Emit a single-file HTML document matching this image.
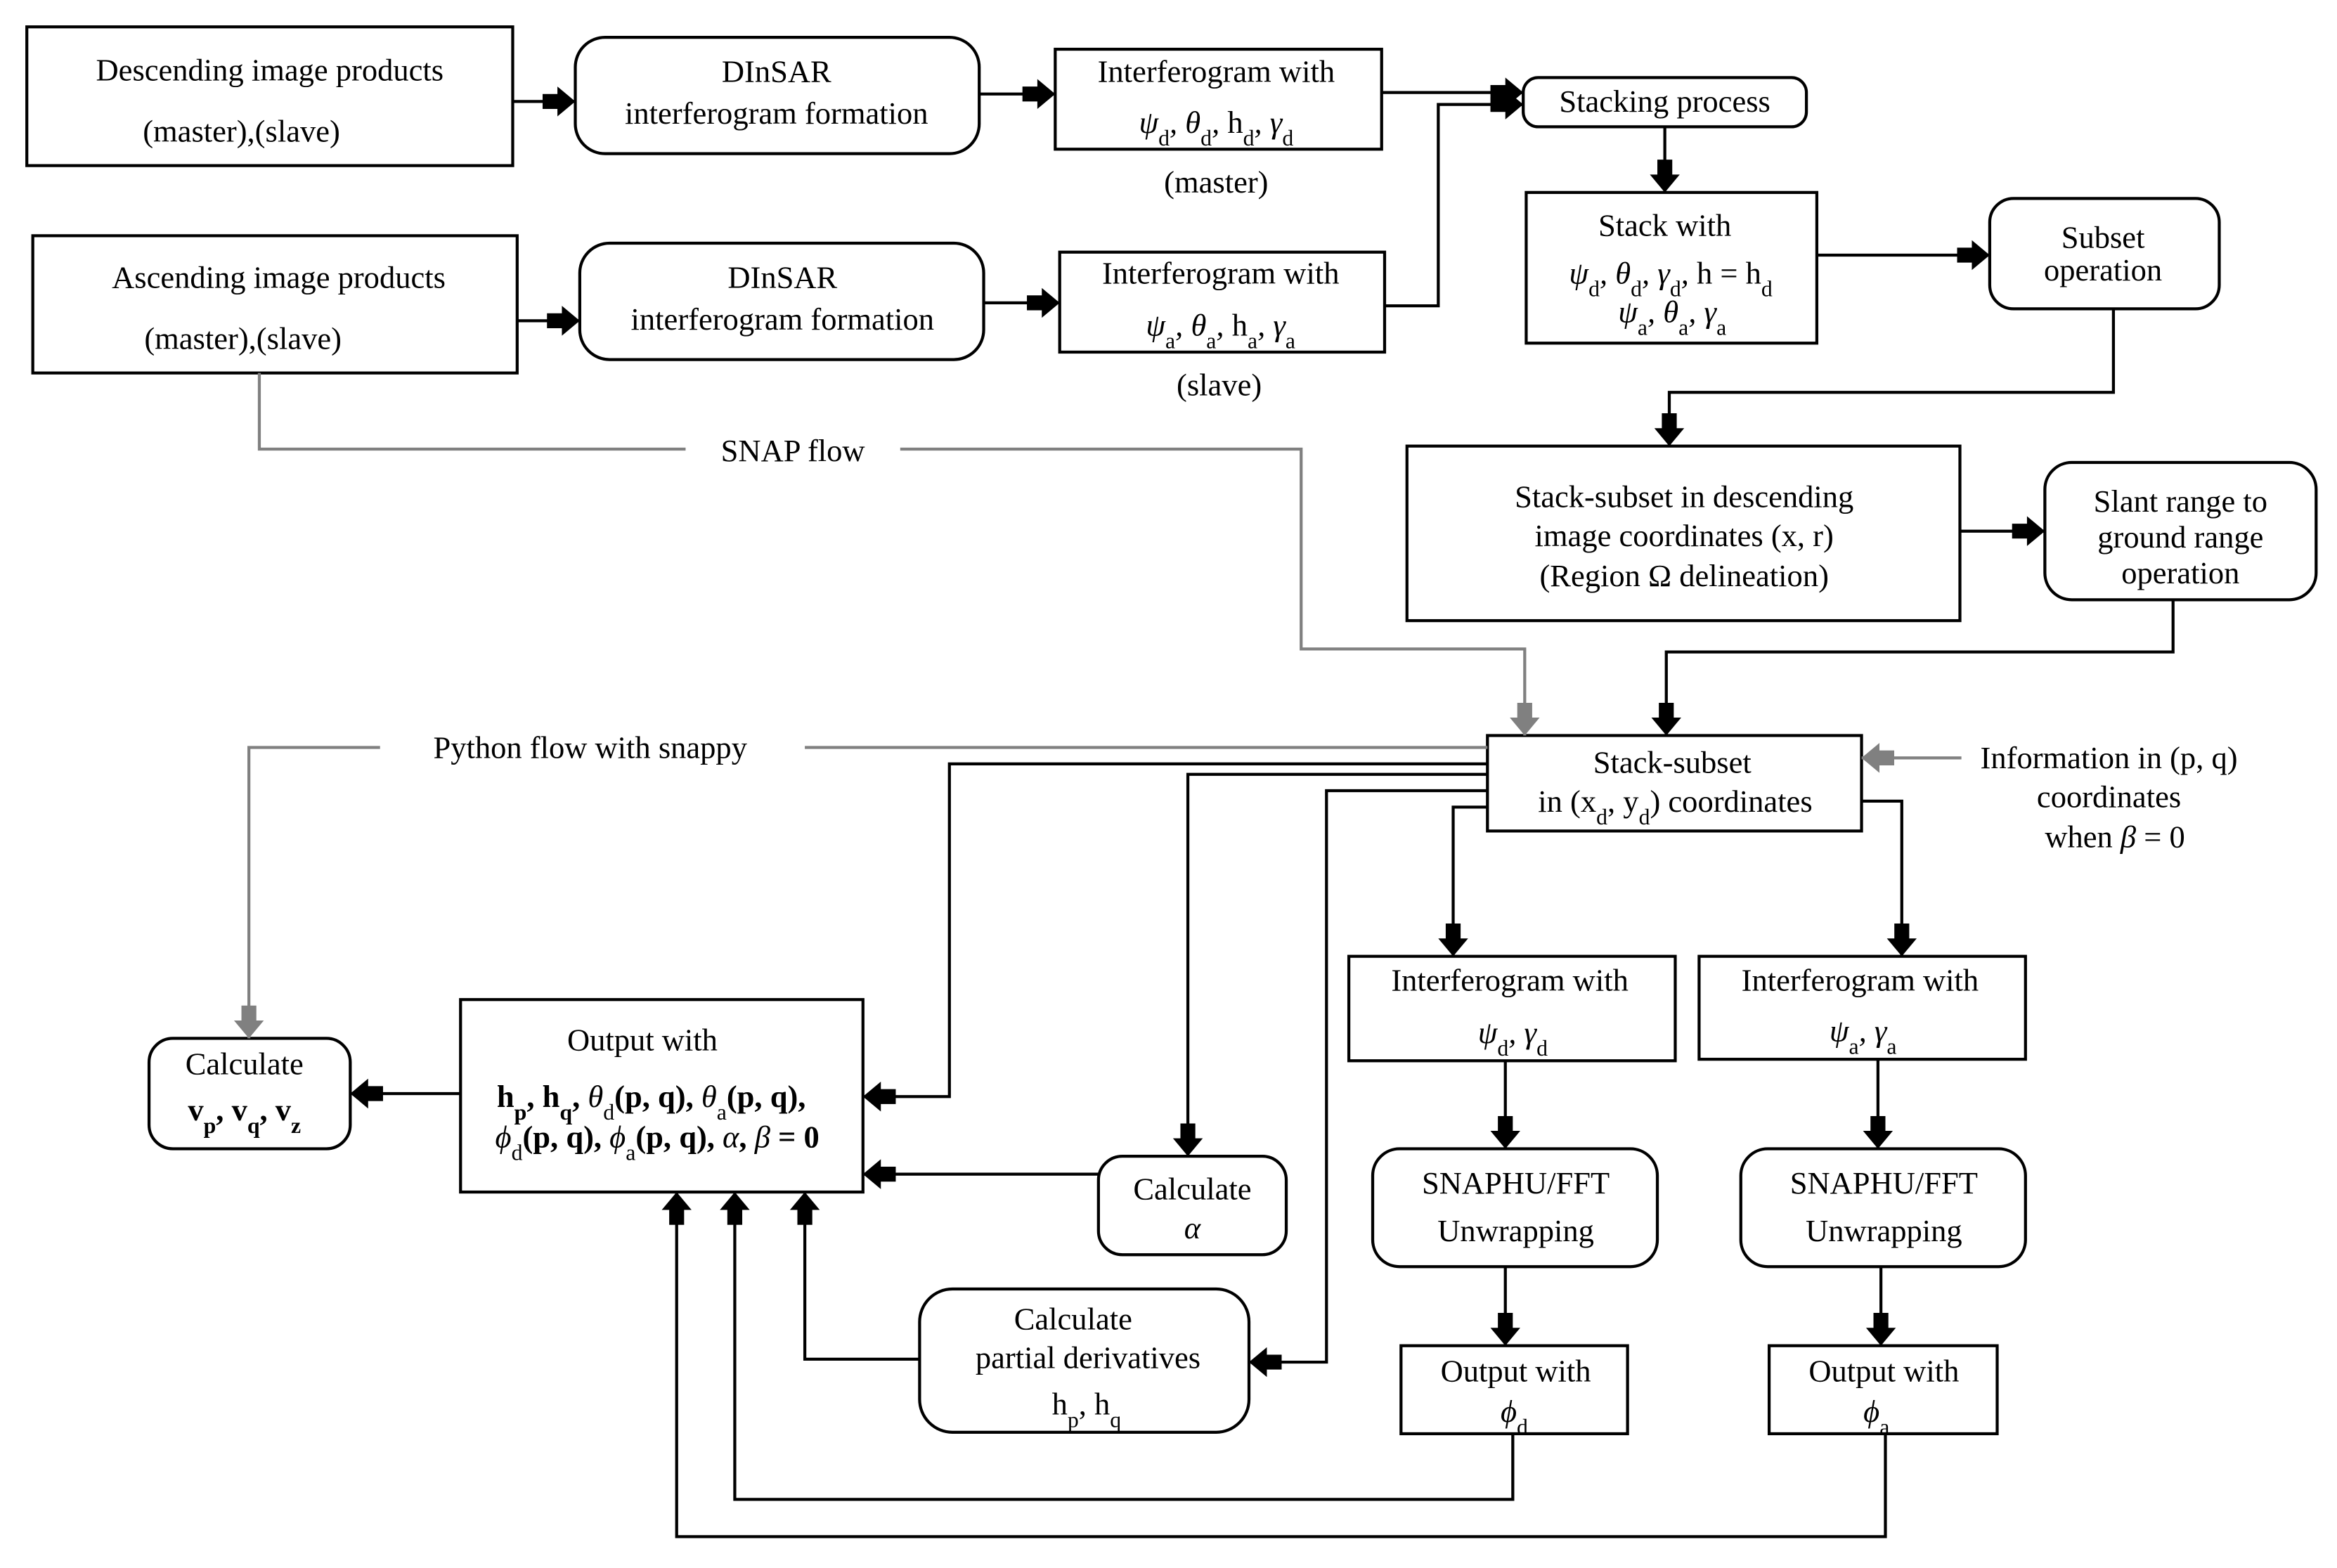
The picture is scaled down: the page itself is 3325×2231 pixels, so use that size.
<!DOCTYPE html>
<html><head><meta charset="utf-8"><style>
html,body{margin:0;padding:0;background:#fff;}
svg{display:block;}
text{font-family:"Liberation Serif","DejaVu Serif",serif;font-size:21px;fill:#000;text-anchor:middle;}
.m{font-style:italic;}
</style></head><body>
<svg width="3325" height="2231" viewBox="0 0 1568 1051" preserveAspectRatio="none" xmlns="http://www.w3.org/2000/svg">
<defs>
<marker id="a" markerUnits="userSpaceOnUse" markerWidth="24" markerHeight="22" refX="22" refY="11" orient="auto">
<polygon points="0,6 10,6 10,1 22,11 10,21 10,16 0,16" fill="#000"/></marker>
<marker id="g" markerUnits="userSpaceOnUse" markerWidth="24" markerHeight="22" refX="22" refY="11" orient="auto">
<polygon points="0,6 10,6 10,1 22,11 10,21 10,16 0,16" fill="#808080"/></marker>
</defs>
<g fill="none" stroke="#000" stroke-width="2">
<rect x="18" y="18" width="326" height="93"/>
<rect x="386" y="25" width="271" height="78" rx="20"/>
<rect x="708" y="33" width="219" height="67"/>
<rect x="1022" y="52" width="190" height="33" rx="10"/>
<rect x="22" y="158" width="325" height="92"/>
<rect x="389" y="163" width="271" height="78" rx="20"/>
<rect x="711" y="169" width="218" height="67"/>
<rect x="1024" y="129" width="195" height="101"/>
<rect x="1335" y="133" width="154" height="74" rx="16"/>
<rect x="944" y="299" width="371" height="117"/>
<rect x="1372" y="310" width="182" height="92" rx="18"/>
<rect x="998" y="493" width="251" height="64"/>
<rect x="905" y="641" width="219" height="70"/>
<rect x="1140" y="641" width="219" height="69"/>
<rect x="921" y="770" width="191" height="79" rx="18"/>
<rect x="1168" y="770" width="191" height="79" rx="18"/>
<rect x="940" y="902" width="152" height="59"/>
<rect x="1187" y="902" width="153" height="59"/>
<rect x="737" y="775" width="126" height="66" rx="16"/>
<rect x="617" y="864" width="221" height="96" rx="22"/>
<rect x="309" y="670" width="270" height="129"/>
<rect x="100" y="696" width="135" height="74" rx="16"/>
</g>
<g fill="none" stroke="#000" stroke-width="2" marker-end="url(#a)">
<path d="M344 68H386"/>
<path d="M657 63H708"/>
<path d="M927 62H1022"/>
<path d="M929 205H965V70H1022"/>
<path d="M347 215H389"/>
<path d="M660 203H711"/>
<path d="M1117 85V129"/>
<path d="M1219 171H1335"/>
<path d="M1418 207V263H1120V299"/>
<path d="M1315 356H1372"/>
<path d="M1458 402V437H1118V493"/>
<path d="M998 512H637V735H579"/>
<path d="M998 519H797V775"/>
<path d="M998 530H890V913H838"/>
<path d="M998 541H975V641"/>
<path d="M1249 537H1276V641"/>
<path d="M1010 711V770"/>
<path d="M1260 710V770"/>
<path d="M1010 849V902"/>
<path d="M1262 849V902"/>
<path d="M737 787H579"/>
<path d="M309 733H235"/>
<path d="M617 911H540V799"/>
<path d="M1015 961V1005H493V799"/>
<path d="M1265 961V1030H454V799"/>
</g>
<g fill="none" stroke="#808080" stroke-width="2">
<path d="M174 250V301H460"/>
<path d="M604 301H873V435H1023V493" marker-end="url(#g)"/>
<path d="M998 501H540"/>
<path d="M255 501H167V696" marker-end="url(#g)"/>
<path d="M1316 508H1249" marker-end="url(#g)"/>
</g>
<text x="181" y="54">Descending image products</text>
<text x="162" y="95">(master),(slave)</text>
<text x="521" y="55">DInSAR</text>
<text x="521" y="83">interferogram formation</text>
<text x="816" y="55">Interferogram with</text>
<text x="816" y="89" class="m">ψ<tspan font-size="15" baseline-shift="sub" font-style="normal">d</tspan>, θ<tspan font-size="15" baseline-shift="sub" font-style="normal">d</tspan>, <tspan font-style="normal">h</tspan><tspan font-size="15" baseline-shift="sub" font-style="normal">d</tspan>, γ<tspan font-size="15" baseline-shift="sub" font-style="normal">d</tspan></text>
<text x="816" y="129">(master)</text>
<text x="1117" y="75">Stacking process</text>
<text x="187" y="193">Ascending image products</text>
<text x="163" y="234">(master),(slave)</text>
<text x="525" y="193">DInSAR</text>
<text x="525" y="221">interferogram formation</text>
<text x="819" y="190">Interferogram with</text>
<text x="819" y="225" class="m">ψ<tspan font-size="15" baseline-shift="sub" font-style="normal">a</tspan>, θ<tspan font-size="15" baseline-shift="sub" font-style="normal">a</tspan>, <tspan font-style="normal">h</tspan><tspan font-size="15" baseline-shift="sub" font-style="normal">a</tspan>, γ<tspan font-size="15" baseline-shift="sub" font-style="normal">a</tspan></text>
<text x="818" y="265">(slave)</text>
<text x="1117" y="158">Stack with</text>
<text x="1121" y="190" class="m">ψ<tspan font-size="15" baseline-shift="sub" font-style="normal">d</tspan>, θ<tspan font-size="15" baseline-shift="sub" font-style="normal">d</tspan>, γ<tspan font-size="15" baseline-shift="sub" font-style="normal">d</tspan>, <tspan font-style="normal">h = h</tspan><tspan font-size="15" baseline-shift="sub" font-style="normal">d</tspan></text>
<text x="1122" y="216" class="m">ψ<tspan font-size="15" baseline-shift="sub" font-style="normal">a</tspan>, θ<tspan font-size="15" baseline-shift="sub" font-style="normal">a</tspan>, γ<tspan font-size="15" baseline-shift="sub" font-style="normal">a</tspan></text>
<text x="1411" y="166">Subset</text>
<text x="1411" y="188">operation</text>
<text x="532" y="309">SNAP flow</text>
<text x="1130" y="340">Stack-subset in descending</text>
<text x="1130" y="366">image coordinates (x, r)</text>
<text x="1130" y="393">(Region Ω delineation)</text>
<text x="1463" y="343">Slant range to</text>
<text x="1463" y="367">ground range</text>
<text x="1463" y="391">operation</text>
<text x="396" y="508">Python flow with snappy</text>
<text x="1122" y="518">Stack-subset</text>
<text x="1124" y="544">in (x<tspan font-size="15" baseline-shift="sub">d</tspan>, y<tspan font-size="15" baseline-shift="sub">d</tspan>) coordinates</text>
<text x="1415" y="515">Information in (p, q)</text>
<text x="1415" y="541">coordinates</text>
<text x="1419" y="568">when <tspan font-style="italic">β</tspan> = 0</text>
<text x="1013" y="664">Interferogram with</text>
<text x="1015" y="699" class="m">ψ<tspan font-size="15" baseline-shift="sub" font-style="normal">d</tspan>, γ<tspan font-size="15" baseline-shift="sub" font-style="normal">d</tspan></text>
<text x="1248" y="664">Interferogram with</text>
<text x="1250" y="698" class="m">ψ<tspan font-size="15" baseline-shift="sub" font-style="normal">a</tspan>, γ<tspan font-size="15" baseline-shift="sub" font-style="normal">a</tspan></text>
<text x="1017" y="800">SNAPHU/FFT</text>
<text x="1017" y="832">Unwrapping</text>
<text x="1264" y="800">SNAPHU/FFT</text>
<text x="1264" y="832">Unwrapping</text>
<text x="1017" y="926">Output with</text>
<text x="1016" y="953" class="m">ϕ<tspan font-size="15" baseline-shift="sub" font-style="normal">d</tspan></text>
<text x="1264" y="926">Output with</text>
<text x="1259" y="953" class="m">ϕ<tspan font-size="15" baseline-shift="sub" font-style="normal">a</tspan></text>
<text x="800" y="804">Calculate</text>
<text x="800" y="830" class="m">α</text>
<text x="720" y="891">Calculate</text>
<text x="730" y="917">partial derivatives</text>
<text x="729" y="948">h<tspan font-size="15" baseline-shift="sub">p</tspan>, h<tspan font-size="15" baseline-shift="sub">q</tspan></text>
<text x="431" y="704">Output with</text>
<text x="437" y="742" font-weight="bold">h<tspan font-size="15" baseline-shift="sub">p</tspan>, h<tspan font-size="15" baseline-shift="sub">q</tspan>, <tspan font-style="italic" font-weight="normal">θ</tspan><tspan font-size="15" baseline-shift="sub" font-weight="normal">d</tspan>(p, q), <tspan font-style="italic" font-weight="normal">θ</tspan><tspan font-size="15" baseline-shift="sub" font-weight="normal">a</tspan>(p, q),</text>
<text x="441" y="769" font-weight="bold"><tspan font-style="italic" font-weight="normal">ϕ</tspan><tspan font-size="15" baseline-shift="sub" font-weight="normal">d</tspan>(p, q), <tspan font-style="italic" font-weight="normal">ϕ</tspan><tspan font-size="15" baseline-shift="sub" font-weight="normal">a</tspan>(p, q), <tspan font-style="italic" font-weight="normal">α</tspan>, <tspan font-style="italic" font-weight="normal">β</tspan> = 0</text>
<text x="164" y="720">Calculate</text>
<text x="164" y="751" font-weight="bold">v<tspan font-size="15" baseline-shift="sub">p</tspan>, v<tspan font-size="15" baseline-shift="sub">q</tspan>, v<tspan font-size="15" baseline-shift="sub">z</tspan></text>
</svg>
</body></html>
